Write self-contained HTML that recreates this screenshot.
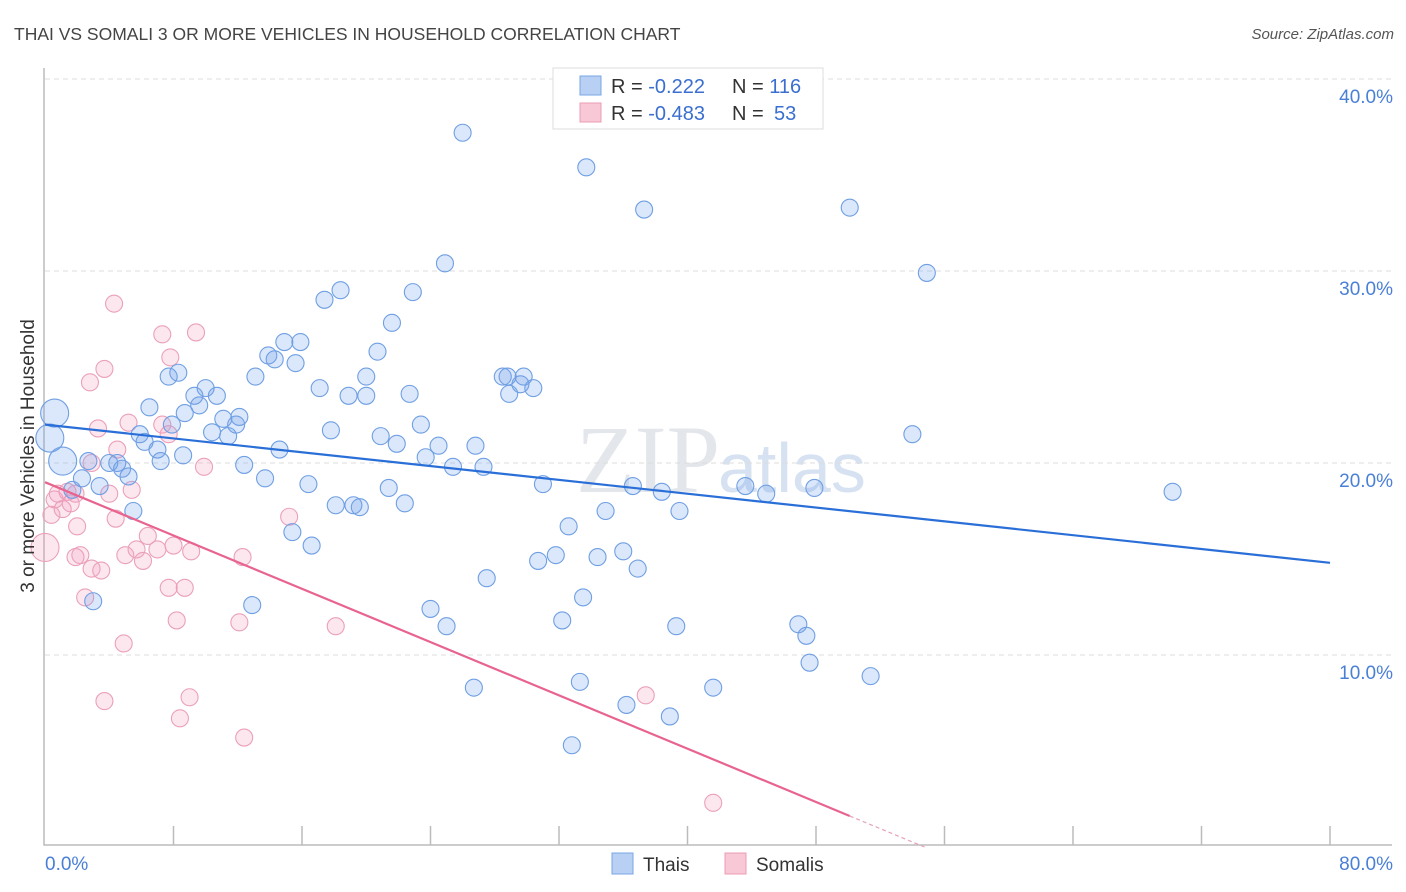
<!DOCTYPE html>
<html><head><meta charset="utf-8">
<style>
body{margin:0;background:#fff;font-family:"Liberation Sans",sans-serif;}
svg{display:block}
</style></head>
<body>
<svg id="chart" width="1406" height="892" xmlns="http://www.w3.org/2000/svg">
<text x="14" y="40" font-size="17.5" fill="#444">THAI VS SOMALI 3 OR MORE VEHICLES IN HOUSEHOLD CORRELATION CHART</text>
<text x="1394" y="39" font-size="15" fill="#555" font-style="italic" text-anchor="end">Source: ZipAtlas.com</text>
<text x="720" y="492" font-size="96" fill="#e3e6ea" font-family="Liberation Serif,serif" text-anchor="end">ZIP</text>
<text x="718" y="492" font-size="70" fill="#d6e2f2">atlas</text>
<g id="grid"></g>
<g id="axes"></g>
<g id="marks"></g>
<text transform="translate(34,456) rotate(-90)" font-size="19" fill="#333" text-anchor="middle">3 or more Vehicles in Household</text>
<g>
<rect x="553" y="68" width="270" height="61" fill="#fff" stroke="#ddd"/>
<rect x="580" y="76" width="21" height="19" fill="#b8d0f3" stroke="#7aa6e6"/>
<rect x="580" y="103" width="21" height="19" fill="#f8c8d6" stroke="#eb9db6"/>
<text x="611" y="93" font-size="20" fill="#333">R = <tspan fill="#3a6fd0">-0.222</tspan><tspan x="732">N = </tspan><tspan fill="#3a6fd0">116</tspan></text>
<text x="611" y="120" font-size="20" fill="#333">R = <tspan fill="#3a6fd0">-0.483</tspan><tspan x="732">N = </tspan><tspan x="774" fill="#3a6fd0">53</tspan></text>
</g>
<g>
<rect x="612" y="853" width="21" height="21" fill="#b8d0f3" stroke="#7aa6e6"/>
<text x="643" y="871" font-size="19" fill="#333">Thais</text>
<rect x="725" y="853" width="21" height="21" fill="#f8c8d6" stroke="#eb9db6"/>
<text x="756" y="871" font-size="19" fill="#333">Somalis</text>
</g>
</svg>
<script>
const yTicks=[10,20,30,40];
const xTickLabels=["0.0%","80.0%"];
const thaiX=[26.0,33.7,37.3,50.1,54.9,24.9,22.9,18.4,17.4,21.6,14.9,15.9,13.9,14.3,15.6,20.7,13.1,8.3,7.7,20.0,28.5,28.8,29.8,29.6,30.4,28.9,10.0,17.1,9.3,10.7,18.9,20.0,22.7,6.5,8.7,9.6,11.1,12.1,11.9,7.9,23.4,17.8,10.4,11.4,5.9,6.2,20.9,21.9,24.5,26.8,7.0,14.6,8.6,23.7,54.0,2.7,4.0,4.5,4.8,7.2,12.4,25.4,27.3,2.3,5.2,13.7,16.4,21.4,31.0,36.6,38.4,43.6,44.9,47.9,70.2,1.7,3.4,18.1,19.2,19.6,22.4,5.5,34.9,39.5,32.6,15.4,16.6,30.7,31.8,34.4,36.0,36.9,27.5,33.5,3.0,12.9,24.0,25.0,32.2,39.3,46.9,47.4,47.6,51.4,26.7,33.3,41.6,36.2,38.9,32.8];
const thaiY=[37.2,35.4,33.2,33.3,29.9,30.4,28.9,29.0,28.5,27.3,26.3,26.3,25.6,25.4,25.2,25.8,24.5,24.7,24.5,24.5,24.5,24.5,24.5,24.1,23.9,23.6,23.9,23.9,23.5,23.5,23.5,23.5,23.6,22.9,22.6,23.0,22.3,22.4,22.0,22.0,22.0,21.7,21.6,21.4,21.5,21.1,21.4,21.0,20.9,20.9,20.7,20.7,20.4,20.3,21.5,20.1,20.0,20.0,19.7,20.1,19.9,19.8,19.8,19.2,19.3,19.2,18.9,18.7,18.9,18.8,18.5,18.8,18.4,18.7,18.5,18.6,18.8,17.8,17.8,17.7,17.9,17.5,17.5,17.5,16.7,16.4,15.7,14.9,15.2,15.1,15.4,14.5,14.0,13.0,12.8,12.6,12.4,11.5,11.8,11.5,11.6,11.0,9.6,8.9,8.3,8.6,8.3,7.4,6.8,5.3];
const thaiBigX=[1.1,0.6,0.3];
const thaiBigY=[20.1,22.6,21.3];
const somX=[4.3,7.3,9.4,7.8,3.7,2.8,5.2,3.3,7.3,4.5,7.7,2.9,9.9,0.4,0.6,0.8,1.4,1.9,1.1,1.6,4.0,5.4,2.0,4.4,15.2,6.4,2.2,1.9,5.0,5.7,7.0,8.0,9.1,6.1,12.3,2.9,3.5,7.7,8.7,2.5,8.2,12.1,18.1,4.9,9.0,3.7,37.4,8.4,12.4,41.6];
const somY=[28.3,26.7,26.8,25.5,24.9,24.2,22.1,21.8,22.0,20.7,21.5,20.0,19.8,17.3,18.1,18.4,18.5,18.4,17.6,17.9,18.4,18.6,16.7,17.1,17.2,16.2,15.2,15.1,15.2,15.5,15.5,15.7,15.4,14.9,15.1,14.5,14.4,13.5,13.5,13.0,11.8,11.7,11.5,10.6,7.8,7.6,7.9,6.7,5.7,2.3];
const somBigX=[0.0];
const somBigY=[15.6];
const thaiTrend=[22.0,14.8];
const somTrend=[19.0,-0.347];
const somSolidEnd=50.1;

const X=v=>45+v*(1285/80);
const Y=v=>847-v*19.2;
const NS="http://www.w3.org/2000/svg";
function mk(tag,attrs,parent){const e=document.createElementNS(NS,tag);for(const k in attrs)e.setAttribute(k,attrs[k]);parent.appendChild(e);return e;}
const grid=document.getElementById('grid'),axes=document.getElementById('axes'),marks=document.getElementById('marks');
yTicks.forEach(t=>{
  const l=mk('line',{x1:45,x2:1392,y1:Y(t),y2:Y(t),stroke:'#dcdcdc','stroke-dasharray':'5,4'},grid);
  
  
  const tx=mk('text',{x:1393,y:Y(t)+24,'font-size':19,fill:'#4a7fd6','text-anchor':'end'},axes);
  tx.textContent=t.toFixed(1)+'%';
  
  
});
const ax=mk('path',{d:'M44 68 V845 H1392',fill:'none',stroke:'#bbb','stroke-width':1.5},axes);


for(let i=1;i<=10;i++){
  const t=mk('line',{x1:X(i*8),x2:X(i*8),y1:826,y2:845,stroke:'#bbb','stroke-width':1.5},axes);
  
  
}
const xl0=mk('text',{x:45,y:870,'font-size':19,fill:'#4a7fd6'},axes);
xl0.textContent=xTickLabels[0];


const xl1=mk('text',{x:1393,y:870,'font-size':19,fill:'#4a7fd6','text-anchor':'end'},axes);
xl1.textContent=xTickLabels[1];



function dots(xs,ys,r,fill,stroke,name){
  xs.forEach((v,i)=>{
    const c=mk('circle',{cx:X(v),cy:Y(ys[i]),r:r,fill:fill,stroke:stroke,'stroke-width':1.1},marks);
    
    
  });
}
dots(somX,somY,8.5,'rgba(244,160,190,0.25)','#eba0ba','somali-point');
dots(somBigX,somBigY,14,'rgba(244,160,190,0.25)','#eba0ba','somali-point');
dots(thaiX,thaiY,8.5,'rgba(110,160,235,0.25)','#6f9fe3','thai-point');
dots(thaiBigX,thaiBigY,14,'rgba(110,160,235,0.25)','#6f9fe3','thai-point');
const tl=mk('line',{x1:X(0),y1:Y(thaiTrend[0]),x2:X(80),y2:Y(thaiTrend[1]),stroke:'#2a6fd8','stroke-width':2.2},marks);


const sEnd=somTrend[0]+somTrend[1]*somSolidEnd;
const sl=mk('line',{x1:X(0),y1:Y(somTrend[0]),x2:X(somSolidEnd),y2:Y(sEnd),stroke:'#e8648f','stroke-width':2.2},marks);


const zeroX=-somTrend[0]/somTrend[1];
const sd=mk('line',{x1:X(somSolidEnd),y1:Y(sEnd),x2:X(zeroX),y2:Y(0),stroke:'#e8a0b8','stroke-width':1.2,'stroke-dasharray':'4,3'},marks);


</script>
</body></html>
